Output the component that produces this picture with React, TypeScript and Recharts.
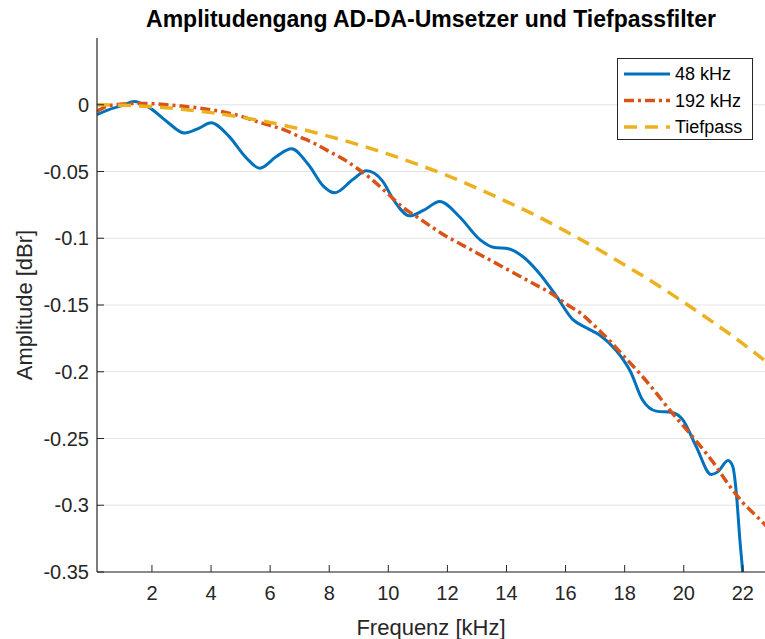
import React from 'react';
import { LineChart, Line, XAxis, YAxis, CartesianGrid } from 'recharts';

const FONT = '"Liberation Sans", Arial, Helvetica, sans-serif';
const AX = '#262626';

const titleText = 'Amplitudengang AD-DA-Umsetzer und Tiefpassfilter';
const xLabelText = 'Frequenz [kHz]';
const yLabelText = 'Amplitude [dBr]';
const seriesNames = ['48 kHz', '192 kHz', 'Tiefpass'];

const xTicks = [2, 4, 6, 8, 10, 12, 14, 16, 18, 20, 22];
const yTicks = [0, -0.05, -0.1, -0.15, -0.2, -0.25, -0.3, -0.35];

// 48 kHz
const freq48 = [0.14, 0.5, 1.0, 1.4, 1.9, 2.5, 3.1, 3.6, 4.0, 4.6, 5.2, 5.65, 6.2, 6.72, 7.3, 7.8, 8.18, 8.8, 9.26, 9.8, 10.2, 10.72, 11.2, 11.74, 12.4, 13.1, 13.55, 14.1, 14.55, 15.1, 15.7, 16.25, 16.7, 17.15, 17.7, 18.2, 18.6, 19.07, 19.6, 19.97, 20.42, 20.93, 21.15, 21.5, 21.66, 21.78, 21.9, 22.0, 22.05];
const amp48 = [-0.0075, -0.004, -0.0005, 0.0025, -0.002, -0.0125, -0.0212, -0.0175, -0.0135, -0.0235, -0.04, -0.0475, -0.039, -0.033, -0.045, -0.061, -0.066, -0.056, -0.0495, -0.057, -0.072, -0.0832, -0.079, -0.0725, -0.0837, -0.101, -0.1067, -0.108, -0.1137, -0.126, -0.1437, -0.161, -0.167, -0.1725, -0.1837, -0.2, -0.221, -0.2295, -0.2305, -0.236, -0.256, -0.277, -0.275, -0.2665, -0.271, -0.291, -0.326, -0.352, -0.37];

// 192 kHz
const freq192 = [0.14, 0.5, 1, 1.5, 2, 2.5, 3, 3.5, 4, 4.5, 5, 5.5, 6, 6.5, 7, 7.5, 8, 8.5, 9, 9.5, 10, 10.5, 11, 11.5, 12, 12.5, 13, 13.5, 14, 14.5, 15, 15.5, 16, 16.5, 17, 17.5, 18, 18.5, 19, 19.5, 20, 20.5, 21, 21.5, 22, 22.5, 23];
const amp192 = [-0.005, -0.001, 0.0005, 0.001, 0.0008, 0.0, -0.001, -0.0022, -0.0038, -0.0058, -0.0085, -0.0122, -0.0155, -0.019, -0.024, -0.029, -0.035, -0.041, -0.0485, -0.057, -0.067, -0.077, -0.0845, -0.092, -0.099, -0.105, -0.111, -0.117, -0.123, -0.129, -0.135, -0.141, -0.149, -0.156, -0.166, -0.177, -0.189, -0.201, -0.214, -0.228, -0.241, -0.254, -0.268, -0.284, -0.298, -0.309, -0.32];

// Tiefpass
const freqTp = [0.14, 1, 2, 3, 4, 5, 6, 7, 8, 9, 10, 11, 12, 13, 14, 15, 16, 17, 18, 19, 20, 21, 22, 23];
const ampTp = [0.0, -0.0004, -0.0015, -0.0033, -0.0059, -0.0093, -0.0133, -0.018, -0.0237, -0.03, -0.037, -0.0448, -0.053, -0.0625, -0.0725, -0.083, -0.0947, -0.107, -0.12, -0.1335, -0.148, -0.163, -0.179, -0.196];

const colors = ['#0072BD', '#D95319', '#EDB120'];
const dashes = [undefined, '10 4 3 4', '13 8'];
const widths = [3, 3.5, 3.5];

const rows = (xs: number[], ys: number[]) => xs.map((x, i) => ({ x, y: ys[i] }));
const data48 = rows(freq48, amp48);
const data192 = rows(freq192, amp192);
const dataTp = rows(freqTp, ampTp);

const M = 8;
const TL = 7;

const BottomTick = (props: any) => {
  const { x, y, payload } = props;
  const ay = y - M;
  return (
    <g>
      <line x1={x} x2={x} y1={ay} y2={ay - TL} stroke={AX} strokeWidth={1} />
      <text x={x} y={ay + 21} textAnchor="middle" dominantBaseline="central" fontSize={20} fontFamily={FONT} fill={AX}>
        {payload.value}
      </text>
    </g>
  );
};

const TopTick = (props: any) => {
  const { x, y } = props;
  const ay = y + M;
  return <line x1={x} x2={x} y1={ay} y2={ay + TL} stroke={AX} strokeWidth={1} />;
};

const LeftTick = (props: any) => {
  const { x, y, payload } = props;
  const ax = x + M;
  return (
    <g>
      <line x1={ax} x2={ax + TL} y1={y} y2={y} stroke={AX} strokeWidth={1} />
      <text x={ax - 8} y={y} textAnchor="end" dominantBaseline="central" fontSize={20} fontFamily={FONT} fill={AX}>
        {String(payload.value)}
      </text>
    </g>
  );
};

const LegendBox = () => (
  <div style={{ position: 'absolute', left: 617, top: 58, width: 136, height: 82, border: `1px solid ${AX}`, background: '#fff', boxSizing: 'border-box' }}>
    <svg width={134} height={80} style={{ display: 'block' }}>
      {seriesNames.map((n, i) => {
        const cy = 15 + i * 26.5;
        return (
          <g key={n}>
            <line x1={6} x2={52} y1={cy} y2={cy} stroke={colors[i]} strokeWidth={widths[i]} strokeDasharray={dashes[i]} />
            <text x={57} y={cy} dominantBaseline="central" fontSize={18} fontFamily={FONT} fill="#000">{n}</text>
          </g>
        );
      })}
    </svg>
  </div>
);

export default function App() {
  return (
    <div style={{ position: 'absolute', left: 0, top: 0, width: 765, height: 639, overflow: 'hidden', background: '#fff' }}>
      <LineChart width={765} height={639} margin={{ top: 38, right: 0, bottom: 37, left: 0 }}>
        <CartesianGrid stroke="#e3e3e3" strokeWidth={1} horizontalValues={yTicks} verticalValues={xTicks} />
        <XAxis
          xAxisId="b"
          type="number"
          dataKey="x"
          domain={[0.14, 22.75]}
          ticks={xTicks}
          allowDataOverflow
          orientation="bottom"
          height={30}
          tickSize={0}
          tickMargin={M}
          tick={<BottomTick />}
          axisLine={{ stroke: AX, strokeWidth: 1.2 }}
          interval={0}
        />
        <XAxis
          xAxisId="t"
          type="number"
          dataKey="x"
          domain={[0.14, 22.75]}
          ticks={xTicks}
          allowDataOverflow
          orientation="top"
          height={0}
          tickSize={0}
          tickMargin={M}
          tick={<TopTick />}
          axisLine={{ stroke: AX, strokeWidth: 1.2 }}
          interval={0}
        />
        <YAxis
          type="number"
          domain={[-0.35, 0.05]}
          ticks={yTicks}
          allowDataOverflow
          width={97}
          tickSize={0}
          tickMargin={M}
          tick={<LeftTick />}
          axisLine={{ stroke: AX, strokeWidth: 1.2 }}
          interval={0}
        />
        <Line xAxisId="b" data={data48} dataKey="y" name={seriesNames[0]} type="monotone" stroke={colors[0]} strokeWidth={widths[0]} dot={false} isAnimationActive={false} />
        <Line xAxisId="b" data={data192} dataKey="y" name={seriesNames[1]} type="monotone" stroke={colors[1]} strokeWidth={widths[1]} strokeDasharray={dashes[1]} dot={false} isAnimationActive={false} />
        <Line xAxisId="b" data={dataTp} dataKey="y" name={seriesNames[2]} type="monotone" stroke={colors[2]} strokeWidth={widths[2]} strokeDasharray={dashes[2]} dot={false} isAnimationActive={false} />
      </LineChart>
      <LegendBox />
      <svg width={765} height={639} style={{ position: 'absolute', left: 0, top: 0, pointerEvents: 'none' }}>
        <text x={431} y={19} textAnchor="middle" dominantBaseline="central" fontSize={23} fontWeight="bold" fontFamily={FONT} fill="#000">{titleText}</text>
        <text x={431} y={627} textAnchor="middle" dominantBaseline="central" fontSize={22} fontFamily={FONT} fill={AX}>{xLabelText}</text>
        <text x={24} y={305} textAnchor="middle" dominantBaseline="central" fontSize={22} fontFamily={FONT} fill={AX} transform="rotate(-90 24 305)">{yLabelText}</text>
      </svg>
    </div>
  );
}
